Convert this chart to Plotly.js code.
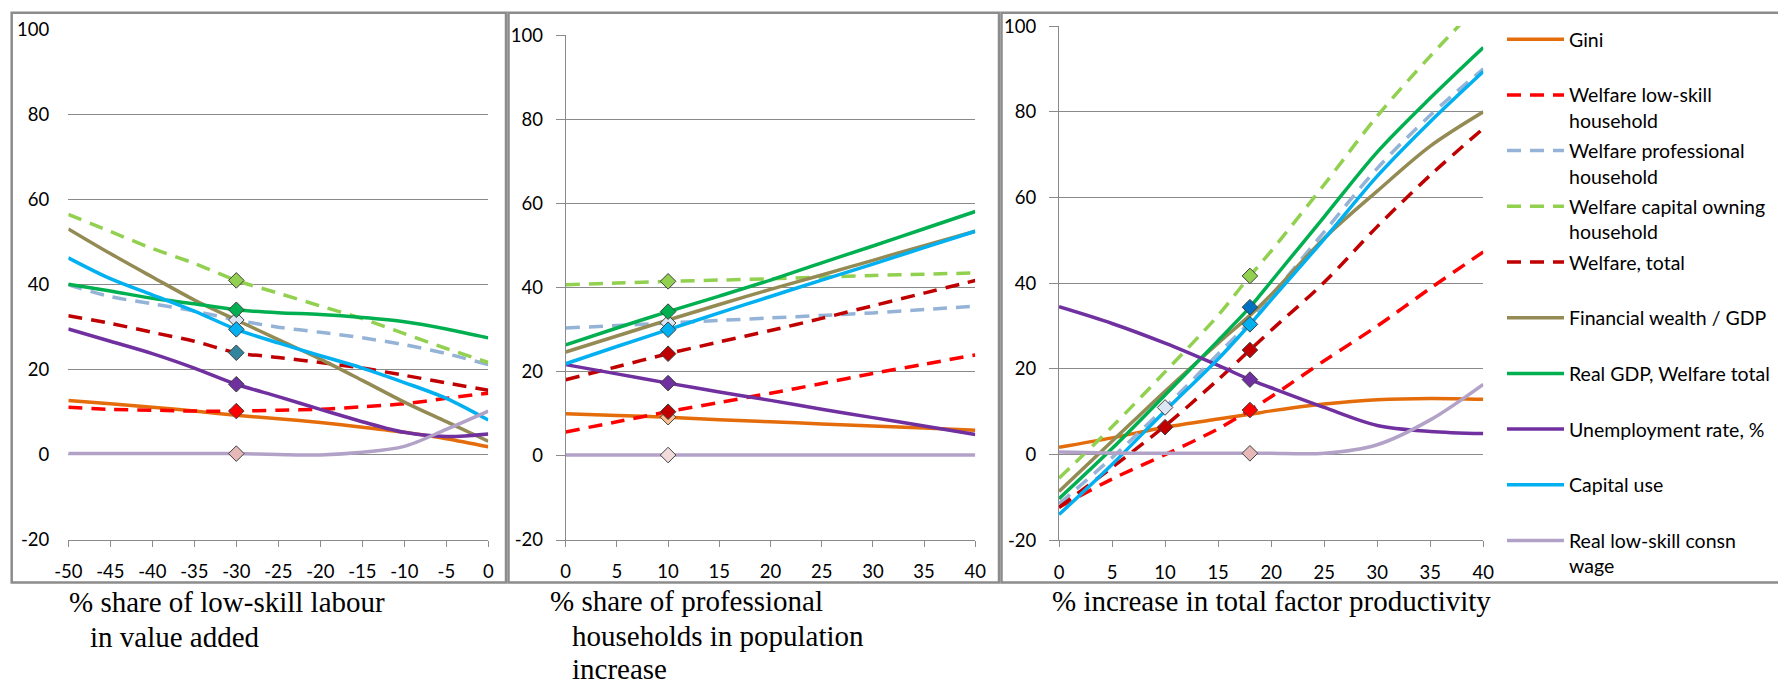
<!DOCTYPE html>
<html>
<head>
<meta charset="utf-8">
<script src="https://cdn.plot.ly/plotly-3.0.1.min.js"></script>
<style>
html,body{margin:0;padding:0;background:#fff;}
#chart{width:1778px;height:686px;}
</style>
</head>
<body>
<div id="chart"></div>
<script>
// ---------- DATA ----------
const seriesNames = [
  'Gini',
  'Welfare low-skill<br>household',
  'Welfare professional<br>household',
  'Welfare capital owning<br>household',
  'Welfare, total',
  'Financial wealth / GDP',
  'Real GDP, Welfare total',
  'Unemployment rate, %',
  'Capital use',
  'Real low-skill consn<br>wage'
];

// Panel 1: % share of low-skill labour in value added
const xLowSkillShare = [-50, -45, -40, -35, -30, -25, -20, -15, -10, -5, 0];
const p1Gini        = [12.8, 12.0, 11.2, 10.3, 9.3, 8.5, 7.6, 6.5, 5.3, 3.8, 1.9];
const p1WelfLow     = [11.2, 10.7, 10.5, 10.3, 10.3, 10.5, 10.7, 11.3, 12.0, 13.3, 14.5];
const p1WelfProf    = [40.0, 37.2, 35.5, 33.8, 31.7, 30.0, 28.8, 27.5, 25.9, 23.8, 21.2];
const p1WelfCap     = [56.5, 52.5, 48.5, 45.0, 41.0, 38.0, 35.0, 32.0, 28.5, 25.0, 21.7];
const p1WelfTotal   = [32.7, 30.9, 28.8, 26.7, 24.0, 22.9, 21.7, 20.4, 18.7, 16.9, 15.2];
const p1FinWealth   = [53.1, 47.3, 41.8, 36.4, 31.7, 27.1, 22.5, 17.5, 12.4, 7.8, 3.2];
const p1RealGDP     = [40.1, 38.5, 36.8, 35.5, 34.1, 33.4, 33.0, 32.3, 31.3, 29.6, 27.5];
const p1Unemp       = [29.6, 26.7, 23.8, 20.4, 16.6, 13.7, 10.7, 7.8, 5.3, 4.3, 4.9];
const p1CapUse      = [46.3, 41.4, 37.6, 33.8, 29.5, 26.3, 23.3, 20.4, 17.0, 13.3, 8.2];
const p1LowWage     = [0.3, 0.3, 0.3, 0.3, 0.3, 0.1, 0.0, 0.6, 2.0, 6.0, 10.3];

// Panel 2: % share of professional households in population increase
const xProfShare    = [0, 5, 10, 15, 20, 25, 30, 35, 40];
const p2Gini        = [10.0, 9.6, 9.2, 8.6, 8.1, 7.6, 7.1, 6.6, 6.1];
const p2WelfLow     = [5.7, 8.1, 10.5, 12.7, 14.9, 17.2, 19.6, 21.8, 24.0];
const p2WelfProf    = [30.4, 31.0, 31.6, 32.2, 32.8, 33.4, 34.0, 34.8, 35.6];
const p2WelfCap     = [40.7, 41.1, 41.5, 41.8, 42.1, 42.5, 42.9, 43.2, 43.5];
const p2WelfTotal   = [18.1, 21.2, 24.3, 27.1, 29.8, 32.7, 35.7, 38.7, 41.7];
const p2FinWealth   = [24.7, 28.5, 32.3, 36.0, 39.6, 43.0, 46.5, 50.0, 53.4];
const p2RealGDP     = [26.4, 30.4, 34.3, 38.0, 41.8, 45.9, 49.9, 54.0, 58.1];
const p2Unemp       = [21.7, 19.5, 17.3, 15.2, 13.2, 11.1, 9.1, 7.1, 5.1];
const p2CapUse      = [21.9, 26.0, 30.0, 34.0, 37.9, 41.8, 45.6, 49.5, 53.4];
const p2LowWage     = [0.2, 0.2, 0.2, 0.2, 0.2, 0.2, 0.2, 0.2, 0.2];

// Panel 3: % increase in total factor productivity
const xTfpIncrease  = [0, 5, 10, 15, 18, 20, 25, 30, 35, 40];
const p3Gini        = [1.7, 3.9, 6.4, 8.3, 9.4, 10.2, 11.8, 12.8, 13.1, 12.9];
const p3WelfLow     = [-12.3, -5.7, 0.0, 6.0, 10.4, 13.5, 21.9, 30.0, 38.8, 47.3];
const p3WelfProf    = [-11.5, -0.7, 11.0, 23.5, 31.0, 37.0, 52.0, 66.8, 79.2, 90.0];
const p3WelfCap     = [-5.5, 6.5, 19.3, 32.5, 41.7, 47.5, 63.0, 79.0, 93.0, 106.0];
const p3WelfTotal   = [-12.3, -3.0, 6.7, 17.5, 24.4, 29.0, 40.2, 53.2, 65.2, 76.1];
const p3FinWealth   = [-8.6, 3.1, 14.8, 26.0, 32.5, 37.3, 50.5, 61.5, 72.0, 80.0];
const p3RealGDP     = [-10.3, 1.4, 13.9, 26.6, 34.4, 40.4, 55.5, 70.6, 83.2, 95.0];
const p3Unemp       = [34.5, 30.6, 26.0, 20.8, 17.5, 15.6, 11.0, 6.8, 5.4, 4.9];
const p3CapUse      = [-14.0, -2.3, 10.2, 22.3, 30.4, 36.1, 50.3, 65.0, 77.7, 89.4];
const p3LowWage     = [0.6, 0.4, 0.3, 0.3, 0.3, 0.3, 0.3, 2.3, 8.1, 16.4];

// axis ticks (labels written with a plain hyphen, as in the original)
const yTickVals   = [-20, 0, 20, 40, 60, 80, 100];
const yTickText   = ['-20', '0', '20', '40', '60', '80', '100'];
const x1TickVals  = [-50, -45, -40, -35, -30, -25, -20, -15, -10, -5, 0];
const x1TickText  = ['-50', '-45', '-40', '-35', '-30', '-25', '-20', '-15', '-10', '-5', '0'];
const x23TickVals = [0, 5, 10, 15, 20, 25, 30, 35, 40];
const x23TickText = ['0', '5', '10', '15', '20', '25', '30', '35', '40'];

const xTitle1 = ['% share of low-skill labour', 'in value added'];
const xTitle2 = ['% share of professional', 'households in population', 'increase'];
const xTitle3 = ['% increase in total factor productivity'];

// highlighted scenario points (series index, x value)
const p1Highlights = [[1, -30], [2, -30], [3, -30], [4, -30], [6, -30], [7, -30], [8, -30], [9, -30]];
const p2Highlights = [[0, 10], [1, 10], [2, 10], [3, 10], [4, 10], [6, 10], [7, 10], [8, 10], [9, 10]];
const p3Highlights = [[0, 10], [2, 10], [1, 18], [3, 18], [4, 18], [6, 18], [7, 18], [8, 18], [9, 18]];

// ---------- STYLE ----------
const W = 1778, H = 686;
const px = v => v / W;
const py = v => 1 - v / H;

const lineStyles = [
  {color: '#E46C0A', dash: 'solid'},
  {color: '#FF0000', dash: '14px,9px'},
  {color: '#95B3D7', dash: '14px,9px'},
  {color: '#92D050', dash: '14px,9px'},
  {color: '#C00000', dash: '14px,9px'},
  {color: '#948A54', dash: 'solid'},
  {color: '#00B050', dash: 'solid'},
  {color: '#7030A0', dash: 'solid'},
  {color: '#00B0F0', dash: 'solid'},
  {color: '#B3A2C7', dash: 'solid'}
];
const markerFill = {
  1: {1: '#FF0000', 2: '#DCE6F2', 3: '#92D050', 4: '#31859C', 6: '#00B050', 7: '#7030A0', 8: '#00B0F0', 9: '#E6B9B8'},
  2: {0: '#FAC090', 1: '#C00000', 2: '#DCE6F2', 3: '#92D050', 4: '#C00000', 6: '#00B050', 7: '#7030A0', 8: '#00B0F0', 9: '#F2DCDB'},
  3: {0: '#C00000', 1: '#FF0000', 2: '#DCE6F2', 3: '#92D050', 4: '#C00000', 6: '#0070C0', 7: '#7030A0', 8: '#00B0F0', 9: '#E6B9B8'}
};

const panels = [
  {id: 1, xs: xLowSkillShare, ys: [p1Gini, p1WelfLow, p1WelfProf, p1WelfCap, p1WelfTotal, p1FinWealth, p1RealGDP, p1Unemp, p1CapUse, p1LowWage], hl: p1Highlights, xa: 'x', ya: 'y'},
  {id: 2, xs: xProfShare, ys: [p2Gini, p2WelfLow, p2WelfProf, p2WelfCap, p2WelfTotal, p2FinWealth, p2RealGDP, p2Unemp, p2CapUse, p2LowWage], hl: p2Highlights, xa: 'x2', ya: 'y2'},
  {id: 3, xs: xTfpIncrease, ys: [p3Gini, p3WelfLow, p3WelfProf, p3WelfCap, p3WelfTotal, p3FinWealth, p3RealGDP, p3Unemp, p3CapUse, p3LowWage], hl: p3Highlights, xa: 'x3', ya: 'y3'}
];

// legend labels: every entry occupies two lines, as in the original legend
const legendLabel = n => n.indexOf('<br>') >= 0 ? n : n + '<br>&nbsp;';

const traces = [];
panels.forEach(p => {
  p.ys.forEach((ys, i) => {
    traces.push({
      type: 'scatter', mode: 'lines',
      x: p.xs, y: ys,
      xaxis: p.xa, yaxis: p.ya,
      name: legendLabel(seriesNames[i]),
      legendgroup: 'g' + i,
      showlegend: p.id === 1,
      line: {color: lineStyles[i].color, dash: lineStyles[i].dash, width: 3.5, shape: 'spline', smoothing: 0.9},
      hovertemplate: seriesNames[i].replace('<br>', ' ') + ': %{y}<extra></extra>'
    });
  });
});
panels.forEach(p => {
  const mx = [], my = [], mc = [];
  p.hl.forEach(([si, xv]) => {
    const k = p.xs.indexOf(xv);
    mx.push(xv); my.push(p.ys[si][k]); mc.push(markerFill[p.id][si]);
  });
  traces.push({
    type: 'scatter', mode: 'markers', x: mx, y: my,
    xaxis: p.xa, yaxis: p.ya, showlegend: false, hoverinfo: 'x+y',
    marker: {symbol: 'diamond', size: 12, color: mc, line: {color: '#404040', width: 1}}
  });
});

const tickFont = {family: 'Lato, "Open Sans", sans-serif', size: 18.5, color: '#000'};
const gridC = '#8a8a8a';
function xAxis(dom, rng, anchor, tv, tt) {
  return {domain: dom, range: rng, anchor: anchor, tickmode: 'array', tickvals: tv, ticktext: tt,
    ticks: 'outside', ticklen: 6, tickcolor: gridC, tickwidth: 1,
    showline: true, linecolor: gridC, linewidth: 1, showgrid: false, zeroline: false,
    tickfont: tickFont, ticklabelstandoff: 9, fixedrange: true};
}
function yAxis(dom, anchor, withLine) {
  return {domain: dom, range: [-20, 100], anchor: anchor, tickmode: 'array', tickvals: yTickVals, ticktext: yTickText,
    ticks: withLine ? 'outside' : '', ticklen: 9, tickcolor: gridC, tickwidth: 1,
    showline: withLine, linecolor: gridC, linewidth: 1,
    showgrid: true, gridcolor: gridC, gridwidth: 1, zeroline: false,
    tickfont: tickFont, ticklabelstandoff: withLine ? 9 : 18, fixedrange: true};
}

const annotations = [];
function titleLines(lines, x0, xRest, yCenters) {
  lines.forEach((t, i) => {
    annotations.push({xref: 'paper', yref: 'paper', x: px(i === 0 ? x0 : xRest), y: py(yCenters[i]),
      xanchor: 'left', yanchor: 'middle', showarrow: false, text: t,
      font: {family: '"Liberation Serif", "Times New Roman", serif', size: 29, color: '#000'}});
  });
}
titleLines(xTitle1, 67, 88, [602, 637]);
titleLines(xTitle2, 548, 570, [601, 636, 668.5]);
titleLines(xTitle3, 1050, 1050, [601]);

const borderLine = {color: '#8c8c8c', width: 2.5};
const shapes = [
  {type: 'rect', xref: 'paper', yref: 'paper', x0: px(11.7), x1: px(506), y0: py(582.5), y1: py(12.7), line: borderLine},
  {type: 'rect', xref: 'paper', yref: 'paper', x0: px(508.5), x1: px(999), y0: py(582.5), y1: py(12.7), line: borderLine},
  {type: 'rect', xref: 'paper', yref: 'paper', x0: px(1001.5), x1: px(1800), y0: py(582.5), y1: py(12.7), line: borderLine}
];

const layout = {
  width: W, height: H,
  margin: {l: 0, r: 0, t: 0, b: 0},
  paper_bgcolor: '#fff', plot_bgcolor: 'rgba(0,0,0,0)',
  showlegend: true,
  legend: {x: px(1502), xanchor: 'left', y: py(20), yanchor: 'top',
    font: {family: 'Lato, "Open Sans", sans-serif', size: 19.5, color: '#000'},
    itemwidth: 57, valign: 'top', tracegroupgap: 2, bgcolor: 'rgba(0,0,0,0)', borderwidth: 0,
    traceorder: 'grouped'},
  xaxis: xAxis([px(68.3), px(488.3)], [-50, 0], 'y', x1TickVals, x1TickText),
  yaxis: yAxis([py(540), py(29.3)], 'x', false),
  yaxis4: {overlaying: 'y', side: 'right', anchor: 'x', range: [-20, 100], showline: true, linecolor: gridC, linewidth: 1,
    showticklabels: false, showgrid: false, zeroline: false, ticks: '', fixedrange: true},
  xaxis2: xAxis([px(565.7), px(975.3)], [0, 40], 'y2', x23TickVals, x23TickText),
  yaxis2: yAxis([py(540), py(35.3)], 'x2', true),
  xaxis3: xAxis([px(1059), px(1483.3)], [0, 40], 'y3', x23TickVals, x23TickText),
  yaxis3: yAxis([py(540.3), py(26.1)], 'x3', true),
  annotations: annotations,
  shapes: shapes,
  hovermode: 'closest'
};

Plotly.newPlot('chart', traces, layout, {displayModeBar: false});
</script>
</body>
</html>
